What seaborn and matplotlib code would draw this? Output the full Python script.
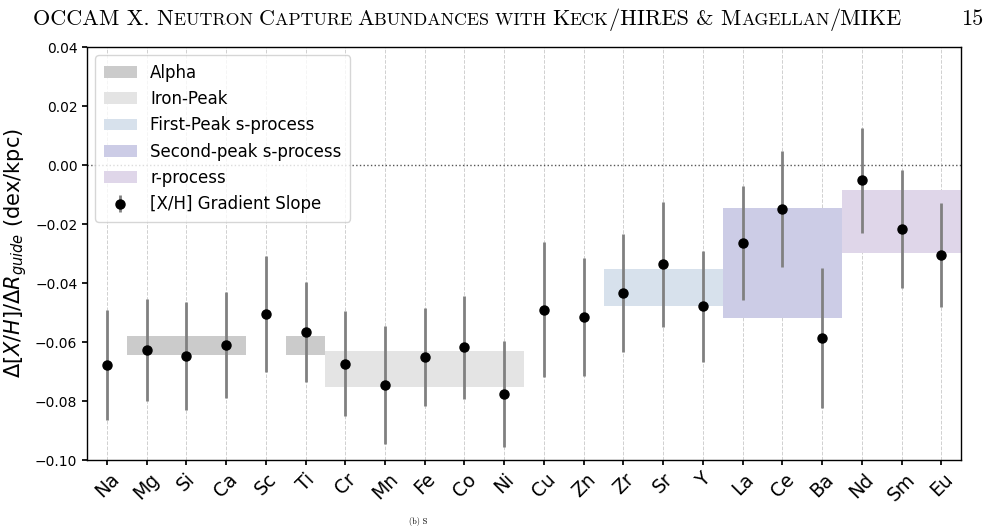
import matplotlib

matplotlib.use("Agg")
import matplotlib.pyplot as plt
import numpy as np
import seaborn as sns
from matplotlib.offsetbox import AnchoredOffsetbox, HPacker, TextArea

# ===== DATA =====
elements = ["Na", "Mg", "Si", "Ca", "Sc", "Ti", "Cr", "Mn", "Fe", "Co", "Ni",
            "Cu", "Zn", "Zr", "Sr", "Y", "La", "Ce", "Ba", "Nd", "Sm", "Eu"]
slopes = [-0.0678, -0.0626, -0.0646, -0.0610, -0.0505, -0.0567, -0.0673,
          -0.0745, -0.0651, -0.0618, -0.0775, -0.0490, -0.0515, -0.0434,
          -0.0336, -0.0479, -0.0265, -0.0149, -0.0586, -0.0051, -0.0217,
          -0.0305]
slope_errs = [0.0187, 0.0173, 0.0183, 0.0180, 0.0195, 0.0169, 0.0177,
              0.0200, 0.0167, 0.0174, 0.0180, 0.0228, 0.0200, 0.0199,
              0.0212, 0.0189, 0.0194, 0.0197, 0.0236, 0.0178, 0.0201,
              0.0177]

# groups: (label, first element, last element, low, high, colour)
groups = [
    ("Alpha", "Mg", "Ca", -0.0644, -0.0581, "#cbcbcb"),
    ("Alpha", "Ti", "Ti", -0.0644, -0.0581, "#cbcbcb"),
    ("Iron-Peak", "Cr", "Ni", -0.0753, -0.0632, "#e4e4e4"),
    ("First-Peak s-process", "Zr", "Y", -0.0478, -0.0354, "#d7e1ec"),
    ("Second-peak s-process", "La", "Ba", -0.0520, -0.0146, "#cccce6"),
    ("r-process", "Nd", "Eu", -0.0298, -0.0084, "#dfd6e9"),
]

# ===== PLOT =====
sns.set_theme(style="ticks")
plt.rcParams["font.family"] = ["DejaVu Sans"]
plt.rcParams["text.color"] = "black"
plt.rcParams["xtick.color"] = "black"
plt.rcParams["ytick.color"] = "black"
plt.rcParams["axes.labelcolor"] = "black"

fig = plt.figure(figsize=(9.97, 5.27), dpi=100)
ax = fig.add_axes([0.0873, 0.1271, 0.8767, 0.7837])

x = np.arange(len(elements))
used = set()
for label, first, last, lo, hi, color in groups:
    x0 = elements.index(first) - 0.5
    x1 = elements.index(last) + 0.5
    ax.fill_between([x0, x1], lo, hi, color=color, linewidth=0,
                    label=None if label in used else label, zorder=1)
    used.add(label)

ax.errorbar(x, slopes, yerr=slope_errs, fmt="o", color="black",
            ecolor="gray", elinewidth=2, markersize=6.5,
            label="[X/H] Gradient Slope", zorder=3)
ax.axhline(0, color="#555555", linestyle=":", linewidth=1, zorder=2)

ax.set_xticks(x)
ax.set_xticklabels(elements, rotation=45, fontsize=13.5)
ax.set_xlim(-0.5, len(elements) - 0.5)
ax.set_ylim(-0.10, 0.04)
ax.set_yticks(np.arange(-0.10, 0.041, 0.02))
ax.tick_params(axis="y", labelsize=10, length=3.5)
ax.tick_params(axis="x", length=3.5)
ax.xaxis.grid(True, linestyle="--", color="#d0d0d0", linewidth=0.7, zorder=0)
ax.set_axisbelow(True)
for s in ax.spines.values():
    s.set_linewidth(1.0)
    s.set_color("black")

ax.set_ylabel(r"$\Delta[X/H]/\Delta R_{guide}$ (dex/kpc)", fontsize=15)
ax.legend(loc="upper left", fontsize=12, framealpha=0.8, borderpad=0.5)

# page header in small caps
big, small = 16, 12.9
pieces = [("OCCAM X. N", big), ("EUTRON ", small), ("C", big),
          ("APTURE ", small), ("A", big), ("BUNDANCES WITH ", small),
          ("K", big), ("ECK", small), ("/HIRES & M", big),
          ("AGELLAN", small), ("/MIKE", big)]
areas = [TextArea(t, textprops=dict(fontsize=sz, family="cmr10"))
         for t, sz in pieces]
header = HPacker(children=areas, align="baseline", pad=0, sep=0)
box = AnchoredOffsetbox(loc="upper left", child=header, pad=0,
                        frameon=False, bbox_to_anchor=(0.033, 0.984),
                        bbox_transform=fig.transFigure, borderpad=0)
fig.add_artist(box)
fig.text(0.964, 0.964, "15", fontsize=big, family="cmr10", va="center")
fig.text(0.41, 0.002, "(b) S", fontsize=6, family="cmr10", va="bottom")

fig.savefig("out.png", dpi=100)
